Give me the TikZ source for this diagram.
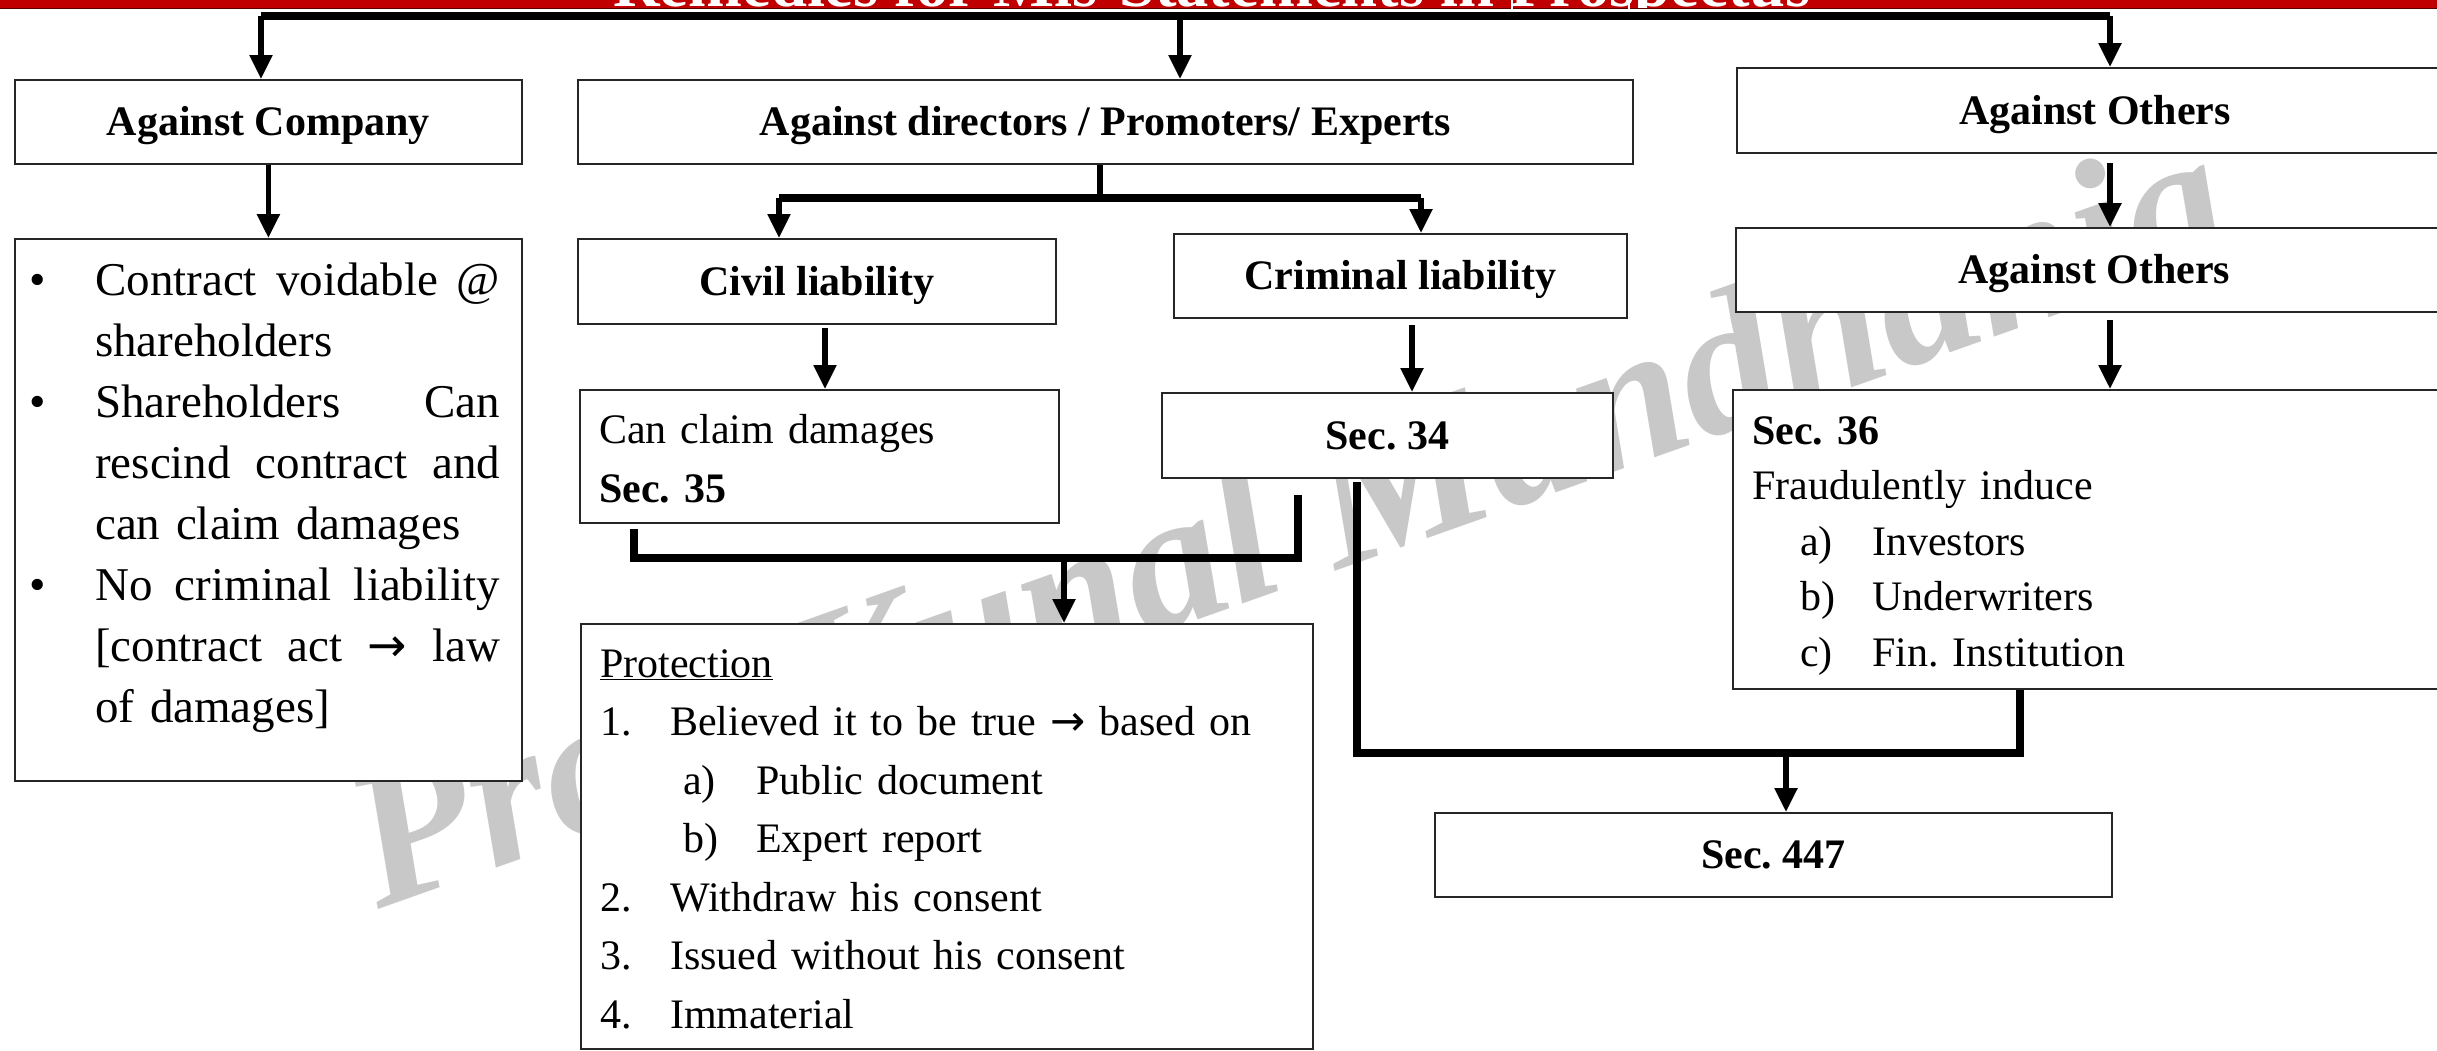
\documentclass[tikz,border=0pt]{standalone}
\usepackage{fontspec}
\setmainfont{Liberation Serif}
\newfontfamily\arrowfont{DejaVu Sans}
\usetikzlibrary{arrows.meta}
\frenchspacing

\definecolor{bannerred}{HTML}{C00000}
\definecolor{bannerdark}{HTML}{5A0000}
\definecolor{wmgray}{RGB}{200,200,200}

% a full-width line with spread words, an inline arrow and a hanging bullet
\newcommand\jl[1]{\makebox[405pt][l]{#1}}
\newcommand\ra{{\arrowfont →}}
\newcommand\bul{\leavevmode\llap{\textbullet\hspace{49pt}}}
\newcommand\num[1]{\makebox[70pt][l]{#1}}
\newcommand\sub[1]{\hspace*{83pt}\makebox[73pt][l]{#1}}
\newcommand\subb[1]{\hspace*{48pt}\makebox[72pt][l]{#1}}

\tikzset{
  box/.style={draw=black!85, line width=1.8pt, fill=white, inner sep=0pt, anchor=north west},
  head/.style={font=\fontsize{42}{58}\selectfont\bfseries, text height=28pt, text depth=0pt},
  body/.style={anchor=base west, inner sep=0pt},
  link/.style={line width=5.5pt, -{Triangle[length=24pt,width=22pt]}},
  bar/.style={line width=8pt, line join=miter},
}

\begin{document}
\begin{tikzpicture}[x=1pt, y=-1pt]
\useasboundingbox (0,0) rectangle (2437,1050);
\fill[white] (0,0) rectangle (2437,1050);

% watermark
\node[anchor=base west, rotate=19.5, inner sep=0pt, text=wmgray,
      font=\fontsize{198}{198}\selectfont\bfseries\itshape] (wm) at (378,910) {Prof. Kunal Mandhania};

% title banner
\begin{scope}
  \clip (0,0) rectangle (2437,7.5);
  \fill[bannerred] (0,0) rectangle (2437,7.5);
  \node[anchor=base, inner sep=0pt, text=white, font=\bfseries] (ttl) at (1212,6.5)
    {\resizebox{1197pt}{!}{Remedies for Mis-Statements in Prospectus}};
\end{scope}
\fill[bannerdark] (0,7.5) rectangle (2437,9);
\draw[white, line width=2.5pt] (1512,0) -- (1512,9) (1629,0) -- (1629,9);

% boxes
\node[box, head, minimum width=507pt, minimum height=84pt] (comp) at (14,79) {Against Company};
\node[box, head, minimum width=1055pt, minimum height=84pt] (dir) at (577,79) {Against directors / Promoters/ Experts};
\node[box, head, minimum width=716pt, minimum height=85pt] (oth) at (1736,67) {Against Others};
\node[box, minimum width=507pt, minimum height=542pt] (clist) at (14,238) {};
\node[box, head, minimum width=478pt, minimum height=85pt] (civil) at (577,238) {Civil liability};
\node[box, head, minimum width=453pt, minimum height=84pt] (crim) at (1173,233) {Criminal liability};
\node[box, head, minimum width=717pt, minimum height=84pt] (oth2) at (1735,227) {Against Others};
\node[box, minimum width=479pt, minimum height=133pt] (claim) at (579,389) {};
\node[box, head, minimum width=451pt, minimum height=85pt] (sec34) at (1161,392) {Sec. 34};
\node[box, minimum width=720pt, minimum height=299pt] (sec36) at (1732,389) {};
\node[box, minimum width=732pt, minimum height=425pt] (prot) at (580,623) {};
\node[box, head, minimum width=677pt, minimum height=84pt] (s447) at (1434,812) {Sec. 447};

% box texts
\node[body, text width=410pt, font=\fontsize{47}{61}\selectfont] (clistt) at (95,295) {%
  \bul\jl{Contract\hfill voidable\hfill @}\\
  shareholders\\
  \bul\jl{Shareholders\hfill Can}\\
  \jl{rescind\hfill contract\hfill and}\\
  can claim damages\\
  \bul\jl{No\hfill criminal\hfill liability}\\
  \jl{[contract\hfill act\hfill \ra\hfill law}\\
  of damages]};
\node[body, text width=440pt, font=\fontsize{42}{59}\selectfont] (claimt) at (599,443) {%
  Can claim damages\\
  \textbf{Sec. 35}};
\node[body, text width=700pt, font=\fontsize{42}{58.5}\selectfont] (prott) at (600,677) {%
  \underline{Protection}\\
  \num{1.}Believed it to be true \ra{} based on\\
  \sub{a)}Public document\\
  \sub{b)}Expert report\\
  \num{2.}Withdraw his consent\\
  \num{3.}Issued without his consent\\
  \num{4.}Immaterial};
\node[body, text width=680pt, font=\fontsize{42}{55.5}\selectfont] (sec36t) at (1752,444) {%
  \textbf{Sec. 36}\\
  Fraudulently induce\\
  \subb{a)}Investors\\
  \subb{b)}Underwriters\\
  \subb{c)}Fin. Institution};

% connector positions
\coordinate (tl) at (261,15.5);
\coordinate (tm) at (1180,15.5);
\coordinate (tr) at (2110,15.5);
\coordinate (dj) at (1100,198);
\coordinate (dl) at (779,198);
\coordinate (dr) at (1421,198);
\coordinate (xcv) at (825,0);
\coordinate (xcr) at (1412,0);
\coordinate (xo) at (2110,0);
\coordinate (m1) at (634,558);
\coordinate (m2) at (1298,558);
\coordinate (m3) at (1064,558);
\coordinate (n1) at (1357,753);
\coordinate (n2) at (2020,753);
\coordinate (n3) at (1786,753);

% top distribution
\draw[bar] (tl) -- (tr);
\draw[link] (tl) -- (tl |- comp.north);
\draw[link] (tm) -- (tm |- dir.north);
\draw[link] (tr) -- (tr |- oth.north);

% left column
\draw[link] (comp.south) -- (clist.north);

% directors split
\draw[line width=5.5pt] (dir.south -| dj) -- (dj);
\draw[bar] (dl) -- (dr);
\draw[link] (dl) -- (dl |- civil.north);
\draw[link] (dr) -- (dr |- crim.north);
\draw[link] ([yshift=-3pt]civil.south -| xcv) -- (claim.north -| xcv);
\draw[link] ([yshift=-6pt]crim.south -| xcr) -- (sec34.north -| xcr);

% protection merge
\draw[bar] ([yshift=-5pt]claim.south -| m1) -- (m1) -- (m2) -- ([yshift=-16pt]sec34.south -| m2);
\draw[link] (m3) -- (m3 |- prot.north);

% right column
\draw[link] ([yshift=-9pt]oth.south -| xo) -- (oth2.north -| xo);
\draw[link] ([yshift=-7pt]oth2.south -| xo) -- (sec36.north -| xo);

% Sec. 447 merge
\draw[bar] ([yshift=-3pt]sec34.south -| n1) -- (n1) -- (n2) -- (sec36.south -| n2);
\draw[link] (n3) -- (n3 |- s447.north);
\end{tikzpicture}
\end{document}
